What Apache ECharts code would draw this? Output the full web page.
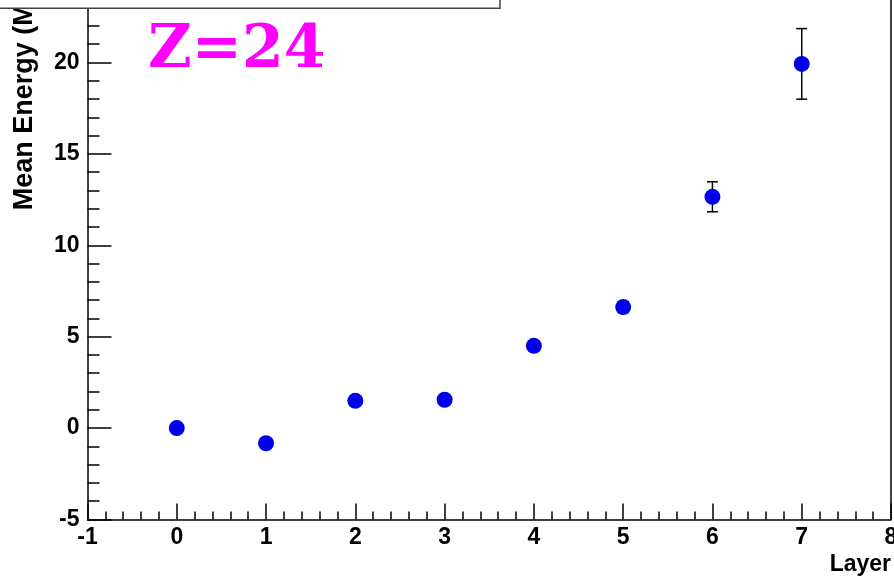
<!DOCTYPE html>
<html>
<head>
<meta charset="utf-8">
<script src="https://cdn.jsdelivr.net/npm/echarts@6/dist/echarts.min.js"></script>
<style>html,body{margin:0;padding:0;background:#fff;overflow:hidden;}#c{width:894px;height:605.2px;margin-top:-29.2px;}</style>
</head>
<body>
<div id="c"></div>
<script>
var layers = [0, 1, 2, 3, 4, 5, 6, 7];
var meanEnergy = [0.0, -0.83, 1.49, 1.55, 4.5, 6.62, 12.65, 19.92];
var energyErr = [0.15, 0.15, 0.2, 0.2, 0.25, 0.3, 0.82, 1.93];
var xTicks = [-1, 0, 1, 2, 3, 4, 5, 6, 7, 8];
var yTicks = [-5, 0, 5, 10, 15, 20];

var pts = layers.map(function (x, i) { return [x, meanEnergy[i]]; });
var errs = layers.map(function (x, i) { return [x, meanEnergy[i] - energyErr[i], meanEnergy[i] + energyErr[i]]; });

var OFF = 29.2;
var chart = echarts.init(document.getElementById('c'), null, {renderer: 'canvas'});
var labelFont = {color: '#000', fontFamily: 'Liberation Sans', fontWeight: 'bold', fontSize: 23};
chart.setOption({
  animation: false,
  backgroundColor: '#fff',
  grid: {left: 87.5, right: 3, top: 0, bottom: 56.5, containLabel: false, outerBoundsMode: 'none'},
  xAxis: {
    type: 'value', min: xTicks[0], max: xTicks[xTicks.length - 1], interval: 1,
    axisLine: {show: true, onZero: false, lineStyle: {color: '#000', width: 1.5}},
    axisTick: {show: true, inside: true, length: 16, lineStyle: {color: '#000', width: 1.5}},
    minorTick: {show: true, splitNumber: 5, length: 8, lineStyle: {color: '#000', width: 1.5}},
    splitLine: {show: false},
    axisLabel: Object.assign({margin: 7}, labelFont),
    name: 'Layer', nameLocation: 'end', nameGap: 0,
    nameTextStyle: {color: '#000', fontFamily: 'Liberation Sans', fontWeight: 'bold', fontSize: 23, align: 'right', verticalAlign: 'top', padding: [34, 0, 0, 0]}
  },
  yAxis: [{
    type: 'value', min: yTicks[0], max: 25, interval: 5,
    axisLine: {show: true, onZero: false, lineStyle: {color: '#000', width: 1.5}},
    axisTick: {show: true, inside: true, length: 24, lineStyle: {color: '#000', width: 1.5}},
    minorTick: {show: true, splitNumber: 5, length: 12, lineStyle: {color: '#000', width: 1.5}},
    splitLine: {show: false},
    axisLabel: Object.assign({margin: 8, formatter: function (v) { return yTicks.indexOf(v) >= 0 ? String(v) : ''; }}, labelFont)
  }, {
    type: 'value', position: 'right', min: yTicks[0], max: 25,
    axisLine: {show: true, onZero: false, lineStyle: {color: '#000', width: 1.5}},
    axisTick: {show: false}, axisLabel: {show: false}, splitLine: {show: false}
  }],
  series: [{
    type: 'custom',
    renderItem: function (params, api) {
      var x = api.value(0);
      var lo = api.coord([x, api.value(1)]);
      var hi = api.coord([x, api.value(2)]);
      var cw = 5.5;
      var st = {stroke: '#000', lineWidth: 1.5};
      return {type: 'group', children: [
        {type: 'line', shape: {x1: lo[0], y1: lo[1], x2: hi[0], y2: hi[1]}, style: st},
        {type: 'line', shape: {x1: lo[0] - cw, y1: lo[1], x2: lo[0] + cw, y2: lo[1]}, style: st},
        {type: 'line', shape: {x1: hi[0] - cw, y1: hi[1], x2: hi[0] + cw, y2: hi[1]}, style: st}
      ]};
    },
    data: errs, z: 2
  }, {
    type: 'scatter', data: pts, symbol: 'circle', symbolSize: 16,
    itemStyle: {color: '#0000e8', opacity: 1}, z: 3
  }],
  graphic: [
    {type: 'rect', shape: {x: -2, y: OFF - 20, width: 502, height: 28},
     style: {fill: '#fff', stroke: '#444', lineWidth: 1.5}, z: 10},
    {type: 'text', x: 148, y: OFF + 21,
     style: {text: 'Z=24', fill: '#ff00ff', font: 'bold 60px "DejaVu Serif"', textAlign: 'left', textVerticalAlign: 'top'}, z: 11},
    {type: 'text', x: 25, y: OFF + 210, rotation: Math.PI / 2,
     style: {text: 'Mean Energy (MeV)', fill: '#000', font: 'bold 27px "Liberation Sans"', textAlign: 'left', textVerticalAlign: 'middle'}, z: 5}
  ]
});
</script>
</body>
</html>
